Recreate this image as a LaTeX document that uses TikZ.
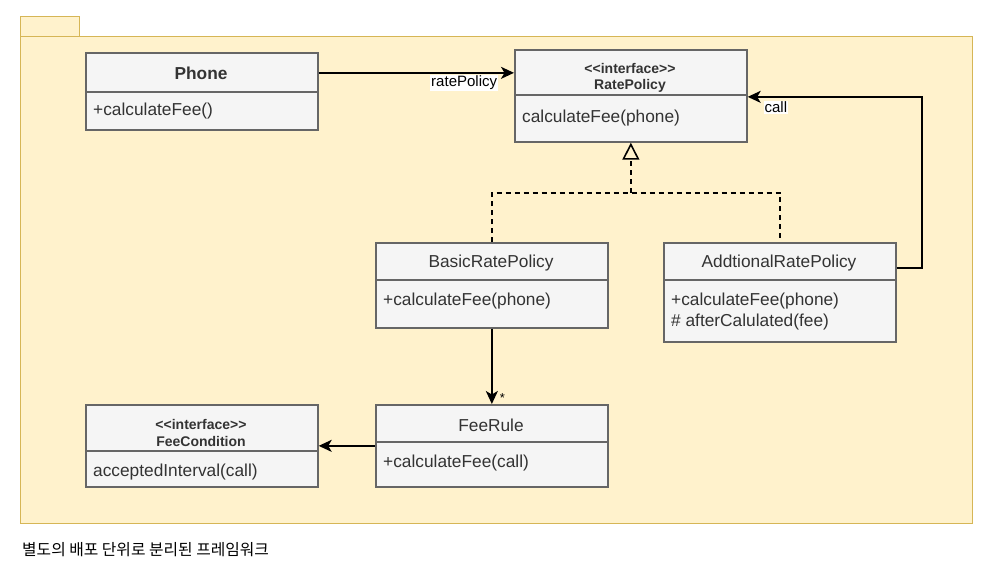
\documentclass[tikz,border=0pt]{standalone}
\usepackage{fontspec}
\setmainfont{Liberation Sans}
\newfontfamily\krfont{Noto Sans CJK KR}
\usetikzlibrary{arrows.meta}
\definecolor{pkgfill}{HTML}{FFF2CC}
\definecolor{pkgline}{HTML}{D6B656}
\definecolor{boxfill}{HTML}{F5F5F5}
\definecolor{boxline}{HTML}{666666}
\definecolor{txt}{HTML}{333333}
\tikzset{
  classbox/.style={draw=boxline, fill=boxfill, line width=1.7pt, inner sep=0pt,
    anchor=north west, minimum width=232pt, minimum height=#1},
  divline/.style={draw=boxline, line width=1.7pt},
  ttl/.style={inner sep=0pt, text=txt, yshift=-1.5pt, font=\fontsize{17.3}{20}\selectfont},
  ittl/.style={inner sep=0pt, text=txt, yshift=-1pt, font=\bfseries\fontsize{14}{16}\selectfont},
  mth/.style={inner sep=0pt, anchor=west, text=txt, yshift=-1.5pt, font=\fontsize{17.3}{20}\selectfont},
  conn/.style={draw=black, line width=1.8pt, -{Stealth[length=13pt,width=12pt,inset=3.5pt]}},
  real/.style={draw=black, line width=1.7pt, dashed, dash pattern=on 5pt off 4pt},
  lbl/.style={fill=white, inner sep=1pt, text=black, font=\fontsize{15}{17}\selectfont}
}
\begin{document}
\begin{tikzpicture}[x=1pt,y=-1pt]
\useasboundingbox (0,0) rectangle (998,571);
% package
\node[draw=pkgline, fill=pkgfill, line width=1.2pt, anchor=north west, inner sep=0pt,
  minimum width=59pt, minimum height=20pt] (tab) at (20,16) {};
\node[draw=pkgline, fill=pkgfill, line width=1.2pt, anchor=north west, inner sep=0pt,
  minimum width=952pt, minimum height=487pt] (pkg) at (20,36) {};
\node[anchor=west, inner sep=0pt, font=\krfont\fontsize{15.8}{18}\selectfont, text=black] (cap) at (22,550) {별도의 배포 단위로 분리된 프레임워크};

% Phone
\node[classbox=77] (phone) at (85,52) {};
\draw[divline] ([yshift=-40pt]phone.north west) -- ([yshift=-40pt]phone.north east);
\node[ttl] (phoneT) at (201,72) {\bfseries Phone};
\node[mth] (phoneM) at (93,110) {+calculateFee()};

% RatePolicy
\node[classbox=92] (rate) at (514,49) {};
\draw[divline] ([yshift=-46pt]rate.north west) -- ([yshift=-46pt]rate.north east);
\node[ittl] (rateS) at (630,67) {{<}{<}interface{>}{>}};
\node[ittl] (rateT) at (630,85) {RatePolicy};
\node[mth] (rateM) at (522,117) {calculateFee(phone)};

% BasicRatePolicy
\node[classbox=85] (basic) at (375,242) {};
\draw[divline] ([yshift=-38pt]basic.north west) -- ([yshift=-38pt]basic.north east);
\node[ttl] (basicT) at (491,262) {BasicRatePolicy};
\node[mth] (basicM) at (383,300) {+calculateFee(phone)};

% AddtionalRatePolicy
\node[classbox=99] (add) at (663,242) {};
\draw[divline] ([yshift=-38pt]add.north west) -- ([yshift=-38pt]add.north east);
\node[ttl] (addT) at (779,262) {AddtionalRatePolicy};
\node[mth] (addM1) at (671,300) {+calculateFee(phone)};
\node[mth] (addM2) at (671,320.5) {\# afterCalulated(fee)};

% FeeRule
\node[classbox=82] (fee) at (375,404) {};
\draw[divline] ([yshift=-38pt]fee.north west) -- ([yshift=-38pt]fee.north east);
\node[ttl] (feeT) at (491,424) {FeeRule};
\node[mth] (feeM) at (383,462) {+calculateFee(call)};

% FeeCondition
\node[classbox=82] (cond) at (85,404) {};
\draw[divline] ([yshift=-47pt]cond.north west) -- ([yshift=-47pt]cond.north east);
\node[ittl] (condS) at (201,423) {{<}{<}interface{>}{>}};
\node[ittl] (condT) at (201,440) {FeeCondition};
\node[mth] (condM) at (93,471) {acceptedInterval(call)};

% connectors
\draw[conn] ([yshift=18.5pt]phone.east) -- ([yshift=18.5pt]phone.east -| rate.west)
  node[lbl, pos=1, anchor=north east, xshift=-15pt, yshift=-1pt] {ratePolicy};
\draw[conn] ([yshift=24.5pt]add.east) -- ++(25,0) |- ([yshift=-1pt]rate.east)
  node[lbl, pos=1, anchor=north west, xshift=15pt, yshift=-3pt] {call};
\coordinate (junc) at ([yshift=-50pt]rate.south);
\draw[real] (basic.north) |- (junc) -| (add.north);
\draw[real, -{Triangle[open, length=17pt, width=17pt, line width=1.6pt]}] (junc) -- (rate.south);
\draw[conn] (basic.south) -- (fee.north)
  node[pos=1, anchor=south west, inner sep=1pt, xshift=6pt, font=\fontsize{13}{15}\selectfont] {*};
\draw[conn] (fee.west) -- (cond.east);
\end{tikzpicture}
\end{document}
